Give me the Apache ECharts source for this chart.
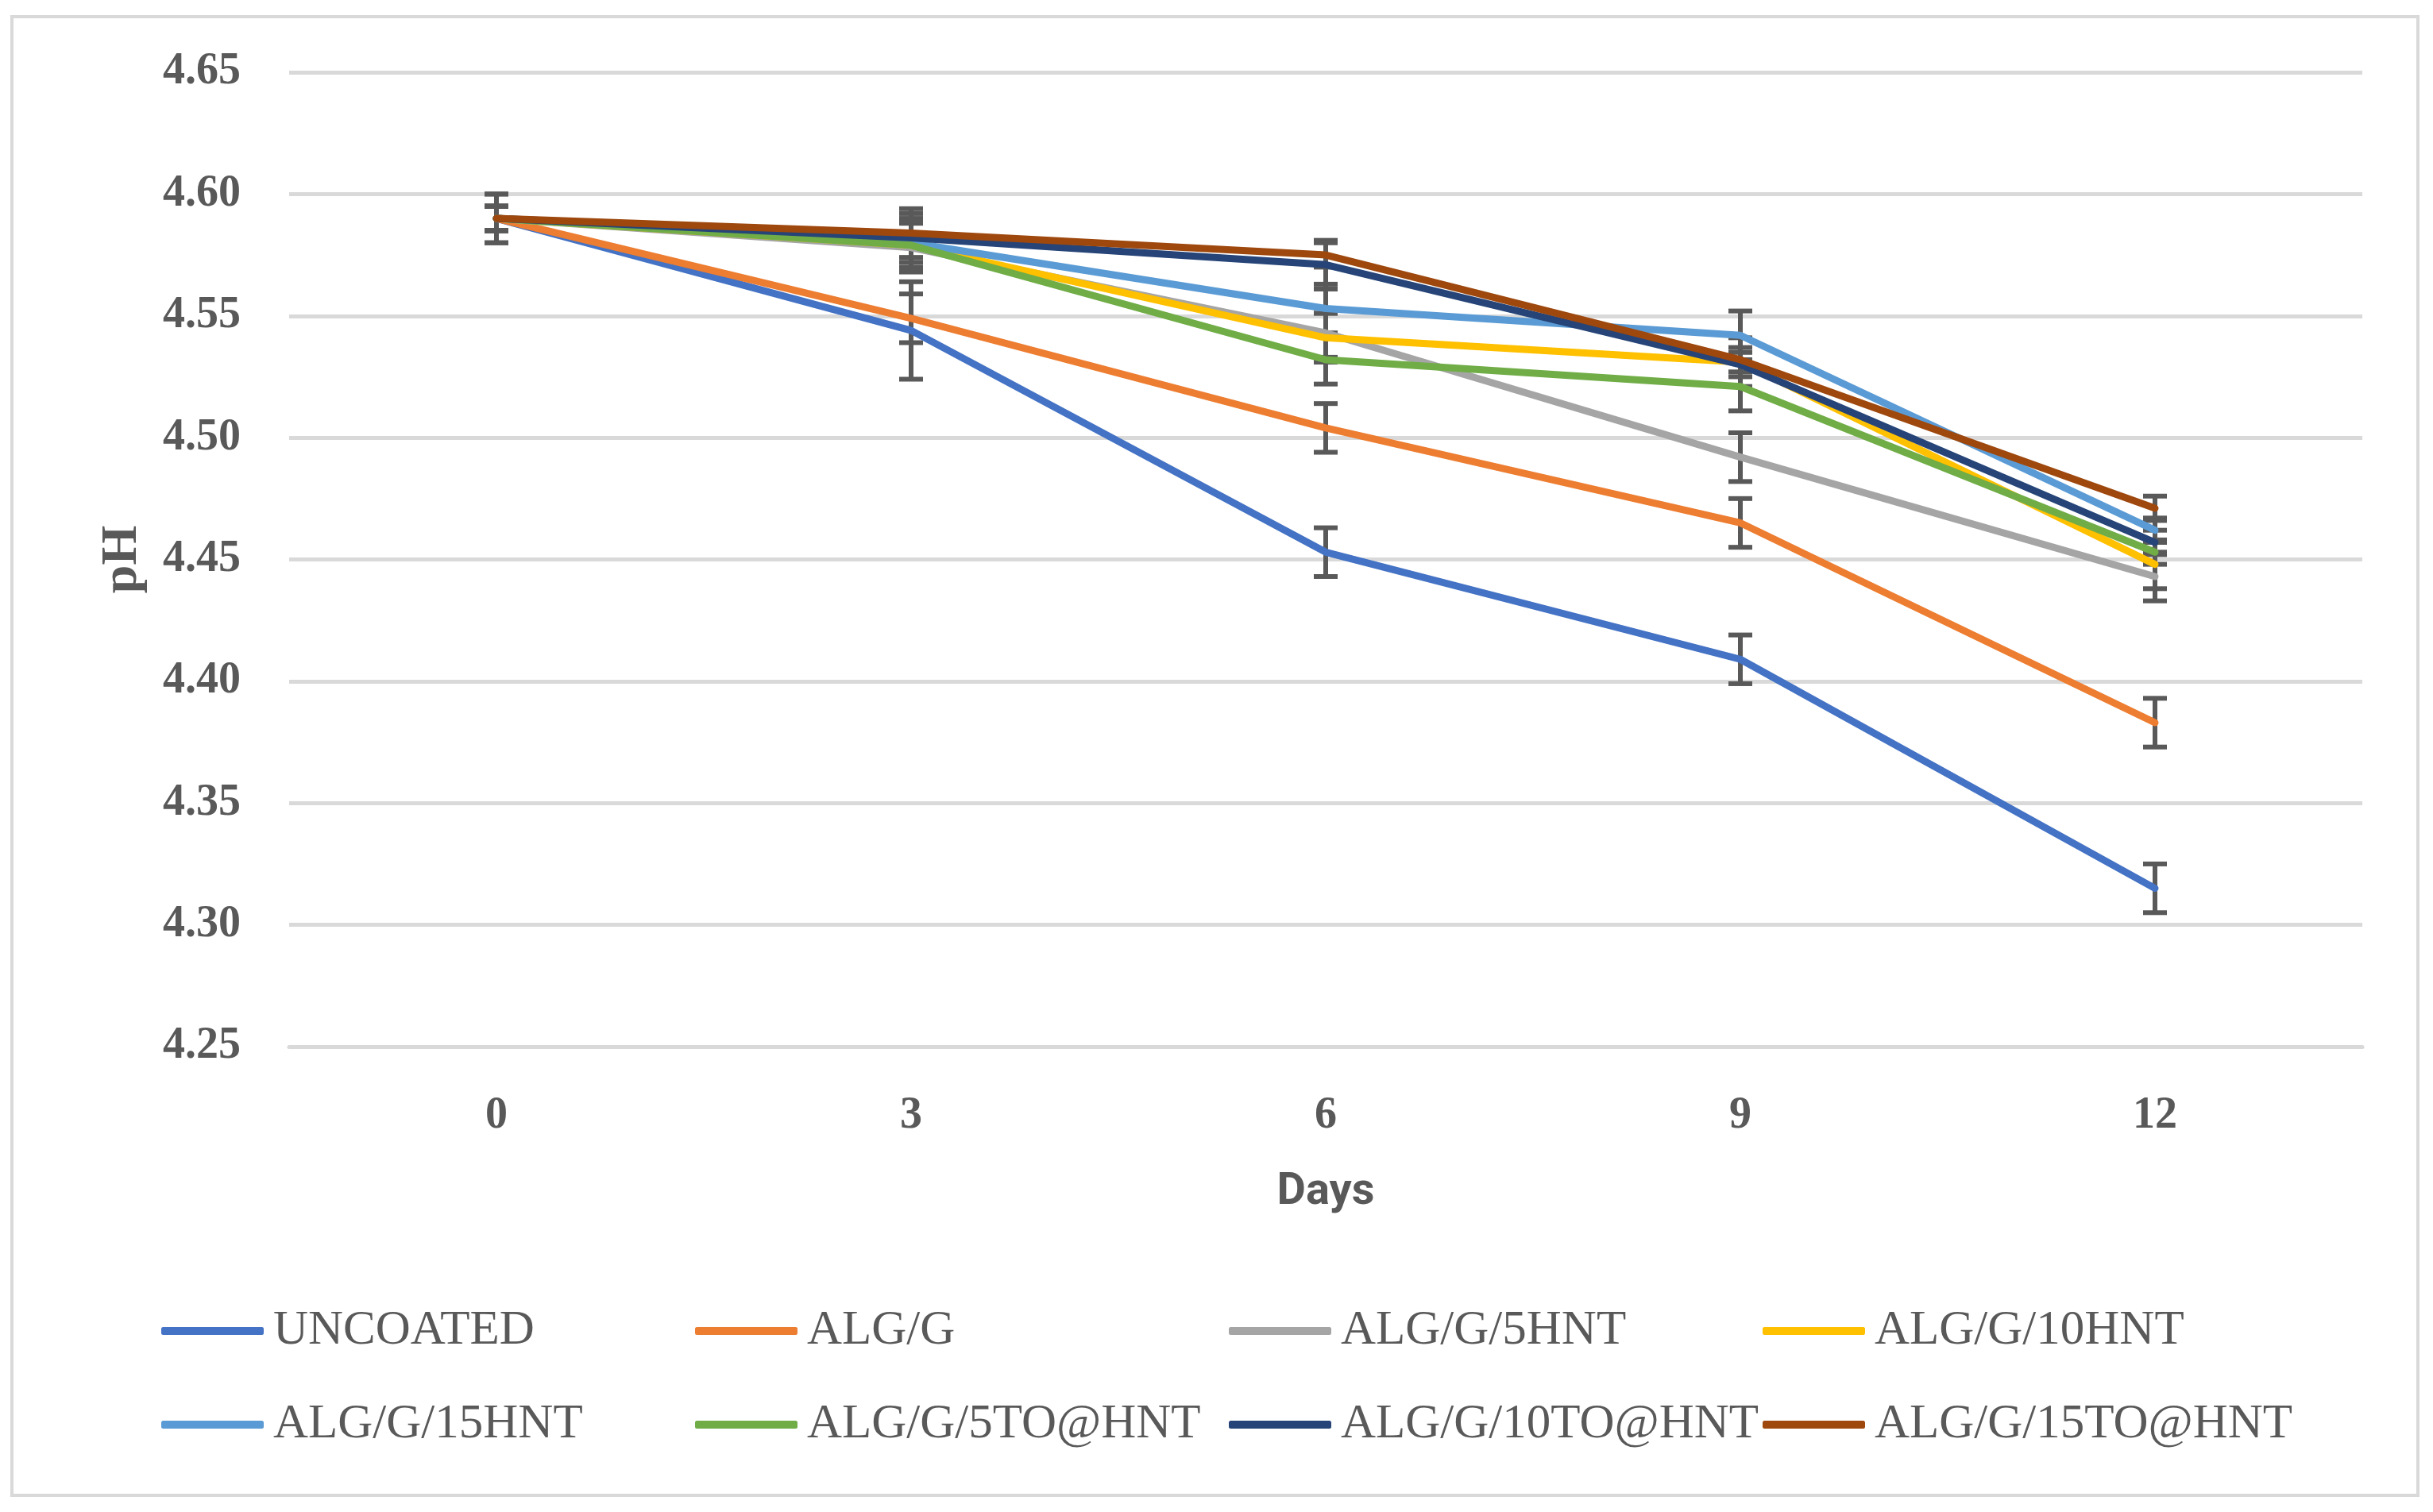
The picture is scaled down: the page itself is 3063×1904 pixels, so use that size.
<!DOCTYPE html>
<html><head><meta charset="utf-8">
<script src="https://cdn.jsdelivr.net/npm/echarts@6/dist/echarts.min.js"></script>
<style>html,body{margin:0;padding:0;background:#fff}#c{width:3063px;height:1904px}</style>
</head><body><div id="c"></div>
<script>
// ---- data ----
const days = ['0', '3', '6', '9', '12'];
const seriesNames = ['UNCOATED', 'ALG/G', 'ALG/G/5HNT', 'ALG/G/10HNT', 'ALG/G/15HNT', 'ALG/G/5TO@HNT', 'ALG/G/10TO@HNT', 'ALG/G/15TO@HNT'];
const seriesColors = ['#4472C4', '#ED7D31', '#A5A5A5', '#FFC000', '#5B9BD5', '#70AD47', '#264478', '#9E480E'];

const uncoated      = [4.590, 4.544, 4.453, 4.409, 4.315];
const algG          = [4.590, 4.549, 4.504, 4.465, 4.383];
const algG5HNT      = [4.590, 4.578, 4.543, 4.492, 4.443];
const algG10HNT     = [4.590, 4.579, 4.541, 4.531, 4.448];
const algG15HNT     = [4.590, 4.580, 4.553, 4.542, 4.462];
const algG5TOHNT    = [4.590, 4.579, 4.532, 4.521, 4.453];
const algG10TOHNT   = [4.590, 4.582, 4.571, 4.530, 4.457];
const algG15TOHNT   = [4.590, 4.584, 4.575, 4.532, 4.471];

const uncoatedErr    = [0.010, 0.020, 0.010, 0.010, 0.010];
const algGErr        = [0.010, 0.010, 0.010, 0.010, 0.010];
const algG5HNTErr    = [0.005, 0.010, 0.010, 0.010, 0.010];
const algG10HNTErr   = [0.005, 0.010, 0.010, 0.010, 0.010];
const algG15HNTErr   = [0.005, 0.010, 0.010, 0.010, 0.005];
const algG5TOHNTErr  = [0.005, 0.010, 0.010, 0.010, 0.005];
const algG10TOHNTErr = [0.005, 0.010, 0.010, 0.005, 0.005];
const algG15TOHNTErr = [0.005, 0.010, 0.005, 0.005, 0.005];

const yMin = 4.25, yMax = 4.65, yStep = 0.05;
const xTitle = 'Days';
const yTitle = 'pH';

const allValues = [uncoated, algG, algG5HNT, algG10HNT, algG15HNT, algG5TOHNT, algG10TOHNT, algG15TOHNT];
const allErrors = [uncoatedErr, algGErr, algG5HNTErr, algG10HNTErr, algG15HNTErr, algG5TOHNTErr, algG10TOHNTErr, algG15TOHNTErr];

// ---- chart ----
const chart = echarts.init(document.getElementById('c'), null, {renderer: 'canvas'});
const textColor = '#595959';
const serif = '"Liberation Serif", "DejaVu Serif", serif';

const errData = [];
allValues.forEach((vals, i) => vals.forEach((v, j) => errData.push([j, v, allErrors[i][j]])));

const lineSeries = seriesNames.map((name, i) => ({
  name, type: 'line', data: allValues[i], symbol: 'none', z: 3,
  itemStyle: {color: seriesColors[i]},
  lineStyle: {color: seriesColors[i], width: 9, cap: 'round', join: 'round'},
  emphasis: {disabled: true}
}));

const errSeries = {
  name: 'errors', type: 'custom', z: 2, data: errData,
  encode: {x: 0, y: 1},
  renderItem: function (params, api) {
    const x = api.value(0), y = api.value(1), e = api.value(2);
    const hi = api.coord([x, y + e]);
    const lo = api.coord([x, y - e]);
    const hw = 15;
    const st = {stroke: '#595959', lineWidth: 6};
    return {type: 'group', children: [
      {type: 'line', shape: {x1: hi[0], y1: hi[1], x2: lo[0], y2: lo[1]}, style: st},
      {type: 'line', shape: {x1: hi[0] - hw, y1: hi[1], x2: hi[0] + hw, y2: hi[1]}, style: st},
      {type: 'line', shape: {x1: lo[0] - hw, y1: lo[1], x2: lo[0] + hw, y2: lo[1]}, style: st}
    ]};
  }
};

const legendCols = [[0, 4], [1, 5], [2, 6], [3, 7]];
const legendLeft = [203, 875, 1547, 2219];
const legends = legendCols.map((idx, k) => ({
  orient: 'vertical', left: legendLeft[k], top: 1645, padding: 0,
  data: idx.map(i => seriesNames[i]),
  icon: 'roundRect', itemWidth: 129, itemHeight: 10, itemGap: 56,
  selectedMode: false,
  textStyle: {fontFamily: serif, fontSize: 61, color: textColor, lineHeight: 62, padding: [0, 0, 0, 7]}
}));

chart.setOption({
  animation: false,
  backgroundColor: '#ffffff',
  color: seriesColors,
  graphic: [{type: 'rect', shape: {x: 15, y: 21, width: 3029, height: 1862},
    style: {fill: 'none', stroke: '#d9d9d9', lineWidth: 4}, silent: true}],
  grid: {left: 364, right: 89, top: 91, bottom: 586, containLabel: false},
  legend: legends,
  xAxis: {
    type: 'category', data: days, boundaryGap: true,
    name: xTitle, nameLocation: 'middle', nameGap: 156,
    nameTextStyle: {fontFamily: 'Roboto, "Open Sans", sans-serif', fontWeight: 'bold', fontSize: 56, color: textColor},
    axisLine: {show: true, lineStyle: {color: '#d9d9d9', width: 5}},
    axisTick: {show: false},
    axisLabel: {margin: 60, fontFamily: serif, fontWeight: 'bold', fontSize: 56, color: textColor}
  },
  yAxis: {
    type: 'value', min: yMin, max: yMax, interval: yStep,
    name: yTitle, nameLocation: 'middle', nameGap: 178, nameRotate: 90,
    nameTextStyle: {fontFamily: serif, fontWeight: 'bold', fontSize: 64, color: textColor},
    axisLine: {show: false}, axisTick: {show: false},
    splitLine: {show: true, lineStyle: {color: '#d9d9d9', width: 5}},
    axisLabel: {margin: 61, fontFamily: serif, fontWeight: 'bold', fontSize: 56, color: textColor,
      formatter: v => v.toFixed(2)}
  },
  series: [errSeries].concat(lineSeries)
});
</script></body></html>
